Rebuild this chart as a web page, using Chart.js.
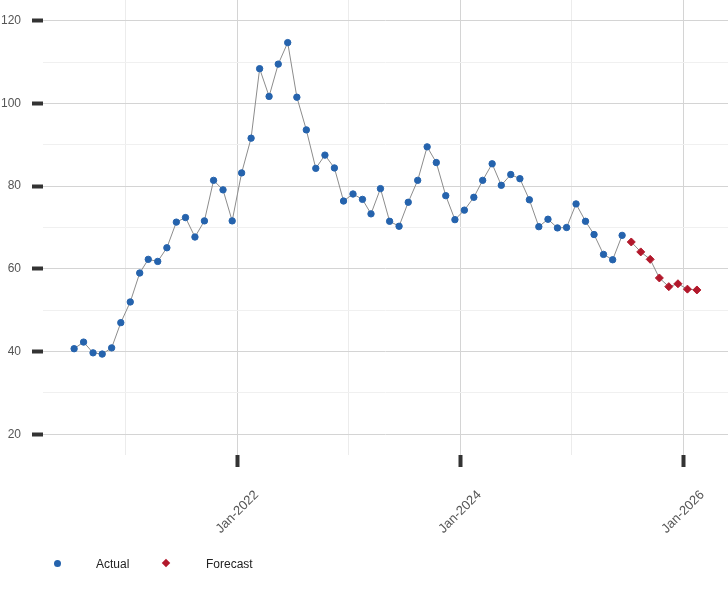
<!DOCTYPE html>
<html>
 <head>
  <title>Actual and Forecast</title>
  <style>
  body {
   margin: 0;
   font-family: "Liberation Sans", Arial, sans-serif;
  }
  #wrap {
   position: relative;
   width: 728px;
   height: 600px;
  }
  .legend {
   position: absolute;
   top: 556px;
   font-size: 12px;
   color: #222;
   line-height: 16px;
  }
  .dot {
   position: absolute;
   width: 7px;
   height: 7px;
  }
  </style>
 </head>
 <body>
 <script src="https://cdn.jsdelivr.net/npm/chart.js@4"></script>
 <div id="wrap">
  <canvas id="chart" width="728" height="600"></canvas>
  <div class="dot" style="left:54px;top:560px;border-radius:50%;background:#2563ad;"></div>
  <div class="legend" style="left:96px;">Actual</div>
  <div class="dot" style="left:163px;top:560px;width:6px;height:6px;transform:rotate(45deg);background:#b2182b;"></div>
  <div class="legend" style="left:206px;">Forecast</div>
 </div>
 <script type="text/javascript">
 // Monthly values
 const actualMonths = [
  '2020-07','2020-08','2020-09','2020-10','2020-11','2020-12',
  '2021-01','2021-02','2021-03','2021-04','2021-05','2021-06',
  '2021-07','2021-08','2021-09','2021-10','2021-11','2021-12',
  '2022-01','2022-02','2022-03','2022-04','2022-05','2022-06',
  '2022-07','2022-08','2022-09','2022-10','2022-11','2022-12',
  '2023-01','2023-02','2023-03','2023-04','2023-05','2023-06',
  '2023-07','2023-08','2023-09','2023-10','2023-11','2023-12',
  '2024-01','2024-02','2024-03','2024-04','2024-05','2024-06',
  '2024-07','2024-08','2024-09','2024-10','2024-11','2024-12',
  '2025-01','2025-02','2025-03','2025-04','2025-05','2025-06'
 ];
 const actualValues = [
  40.7, 42.3, 39.7, 39.4, 40.9, 47.0,
  52.0, 59.0, 62.3, 61.8, 65.1, 71.3,
  72.4, 67.7, 71.6, 81.4, 79.1, 71.6,
  83.2, 91.6, 108.4, 101.7, 109.5, 114.7,
  101.5, 93.6, 84.3, 87.5, 84.4, 76.4,
  78.1, 76.8, 73.3, 79.4, 71.5, 70.3,
  76.1, 81.4, 89.5, 85.7, 77.7, 71.9,
  74.2, 77.3, 81.4, 85.4, 80.2, 82.8,
  81.8, 76.7, 70.2, 72.0, 69.9, 70.0,
  75.7, 71.5, 68.3, 63.5, 62.2, 68.1
 ];
 const forecastMonths = ['2025-07','2025-08','2025-09','2025-10','2025-11','2025-12','2026-01','2026-02'];
 const forecastValues = [66.5, 64.1, 62.3, 57.8, 55.7, 56.4, 55.1, 54.9];

 // x axis: yearly grid, labels every second year
 const xGridYears = [2021, 2022, 2023, 2024, 2025, 2026];
 const xTickLabels = {2022: 'Jan-2022', 2024: 'Jan-2024', 2026: 'Jan-2026'};
 const xMin = '2020-04-04';
 const xMax = '2026-05-28';

 // y axis
 const yMin = 15;
 const yMax = 125;
 const yGridValues = [20, 30, 40, 50, 60, 70, 80, 90, 100, 110, 120];
 const yLabelStep = 20;

 function monthTime(m) {
  const p = m.split('-');
  return Date.UTC(+p[0], +p[1] - 1, 15);
 }
 function dayTime(d) {
  const p = d.split('-');
  return Date.UTC(+p[0], +p[1] - 1, +p[2]);
 }
 function points(months, values) {
  return months.map((m, i) => ({x: monthTime(m), y: values[i]}));
 }
 function isMajorYear(v) {
  return xTickLabels[new Date(v).getUTCFullYear()] !== undefined;
 }

 // draws the rotated date labels centred under each major tick
 const xLabelPlugin = {
  id: 'xLabels',
  afterDraw(chart) {
   const xs = chart.scales.x;
   const ctx = chart.ctx;
   ctx.save();
   ctx.font = '13px "Liberation Sans", Arial, sans-serif';
   ctx.fillStyle = '#555';
   ctx.textAlign = 'center';
   ctx.textBaseline = 'middle';
   xs.ticks.forEach(t => {
    const label = xTickLabels[new Date(t.value).getUTCFullYear()];
    if (!label) return;
    ctx.save();
    ctx.translate(xs.getPixelForValue(t.value), xs.bottom + 45);
    ctx.rotate(-Math.PI / 4);
    ctx.fillText(label, 0, 0);
    ctx.restore();
   });
   ctx.restore();
  }
 };

 const ctx = document.getElementById('chart').getContext('2d');
 const chart = new Chart(ctx, {
  type: 'line',
  data: {
   datasets: [{
    label: 'Actual',
    data: points(actualMonths, actualValues),
    borderColor: '#8c8c8c',
    borderWidth: 1,
    pointStyle: 'circle',
    pointRadius: 3.2,
    pointBorderWidth: 1,
    pointBackgroundColor: '#2563ad',
    pointBorderColor: '#2563ad',
    tension: 0
   }, {
    label: 'Forecast',
    data: points(forecastMonths, forecastValues),
    borderColor: '#8c8c8c',
    borderWidth: 1,
    pointStyle: 'rectRot',
    pointRadius: 4,
    pointBorderWidth: 1,
    pointBackgroundColor: '#b2182b',
    pointBorderColor: '#b2182b',
    tension: 0
   }]
  },
  options: {
   responsive: false,
   animation: false,
   layout: {
    autoPadding: false,
    padding: {top: 0, right: 0, left: 0, bottom: 133}
   },
   plugins: {
    legend: {display: false},
    tooltip: {enabled: false}
   },
   scales: {
    x: {
     type: 'linear',
     min: dayTime(xMin),
     max: dayTime(xMax),
     border: {display: false},
     afterBuildTicks: s => {
      s.ticks = xGridYears.map(y => ({value: Date.UTC(y, 0, 1)}));
     },
     afterFit: s => {
      s.paddingLeft = 0;
      s.paddingRight = 0;
     },
     ticks: {display: false},
     grid: {
      color: c => isMajorYear(c.tick.value) ? '#d4d4d4' : '#ececec',
      lineWidth: 1,
      tickLength: 12,
      tickWidth: 4,
      tickColor: c => isMajorYear(c.tick.value) ? '#333' : 'rgba(0,0,0,0)'
     }
    },
    y: {
     min: yMin,
     max: yMax,
     border: {display: false},
     afterBuildTicks: s => {
      s.ticks = yGridValues.map(v => ({value: v}));
     },
     afterFit: s => {
      s.width = 43;
      s.paddingTop = 0;
      s.paddingBottom = 0;
     },
     ticks: {
      padding: 11,
      color: '#555',
      font: {size: 12, family: '"Liberation Sans", Arial, sans-serif'},
      callback: v => v % yLabelStep === 0 ? v : ''
     },
     grid: {
      color: c => c.tick.value % yLabelStep === 0 ? '#d4d4d4' : '#f0f0f0',
      lineWidth: 1,
      tickLength: 11,
      tickWidth: 4,
      tickColor: c => c.tick.value % yLabelStep === 0 ? '#333' : 'rgba(0,0,0,0)'
     }
    }
   }
  },
  plugins: [xLabelPlugin]
 });
 </script>
 </body>
</html>
